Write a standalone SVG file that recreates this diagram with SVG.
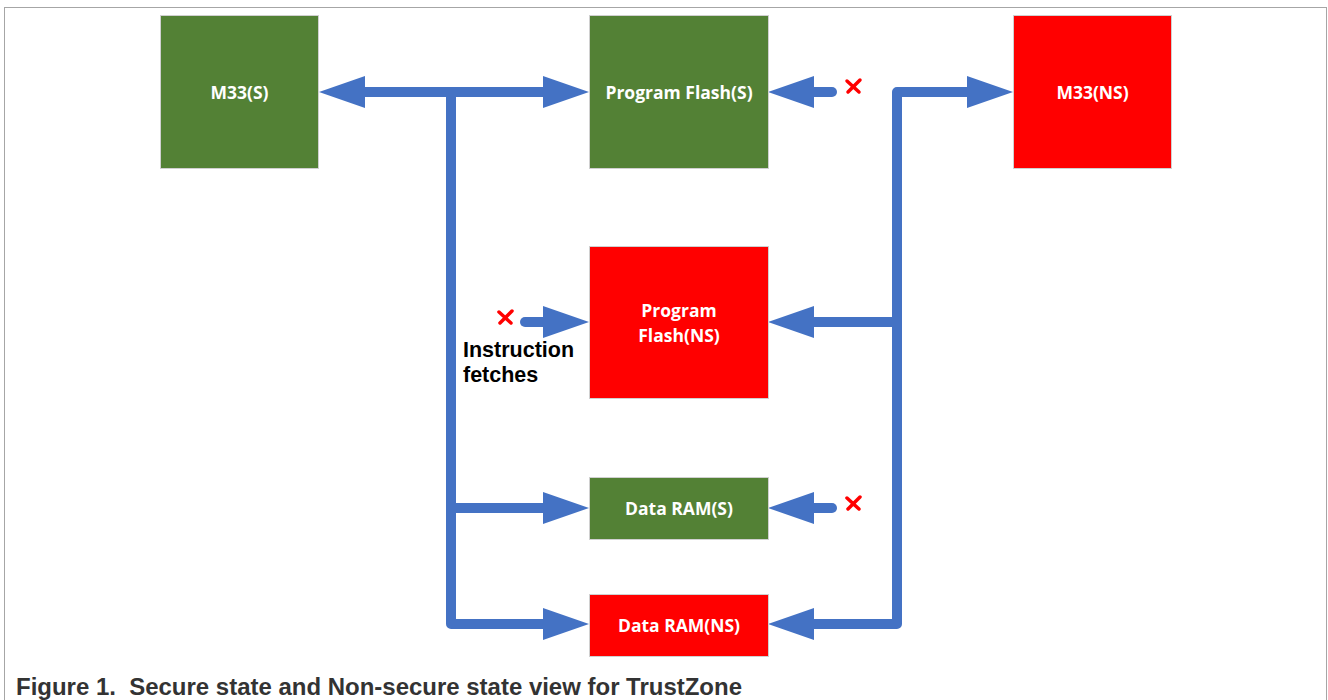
<svg xmlns="http://www.w3.org/2000/svg" width="1328" height="700" viewBox="0 0 1328 700">
<style>
.box{stroke:#d0d0d0;stroke-width:1}
.sec{fill:#538135}
.ns{fill:#ff0000}
.lbl{font-family:"Open Sans","Liberation Sans",sans-serif;font-weight:bold;font-size:17.5px;fill:#ffffff;text-anchor:middle}
.bus{fill:none;stroke:#4472c4;stroke-width:10;stroke-linejoin:round}
.short{fill:none;stroke:#4472c4;stroke-width:10;stroke-linecap:round}
.x{fill:none;stroke:#ff0000;stroke-width:3.5;stroke-linecap:round}
.note{font-family:"Liberation Sans",Arial,sans-serif;font-weight:bold;font-size:21.5px;fill:#000000}
.cap{font-family:"Liberation Sans",Arial,sans-serif;font-weight:bold;font-size:23px;fill:#333333;white-space:pre}
</style>
<defs>
<marker id="ah" markerUnits="userSpaceOnUse" markerWidth="46" markerHeight="32" viewBox="0 0 46 32" refX="1" refY="16" orient="auto-start-reverse">
<path d="M0,0 L46,16 L0,32 Z" fill="#4472c4"/>
</marker>
</defs>
<rect x="4.5" y="7.5" width="1322" height="720" fill="#ffffff" stroke="#a6a6a6" stroke-width="1"/>

<g id="connectors">
<path class="bus" d="M 364 92 H 544" marker-start="url(#ah)" marker-end="url(#ah)"/>
<path class="bus" d="M 451 92 V 624 H 544" marker-end="url(#ah)"/>
<path class="bus" d="M 451 508 H 544" marker-end="url(#ah)"/>
<path class="bus" d="M 968 92 H 897 V 624 H 813" marker-start="url(#ah)" marker-end="url(#ah)"/>
<path class="bus" d="M 897 322 H 813" marker-end="url(#ah)"/>
<path class="short" d="M 832 92 H 813" marker-end="url(#ah)"/>
<path class="short" d="M 832 508 H 813" marker-end="url(#ah)"/>
<path class="short" d="M 525 322 H 544" marker-end="url(#ah)"/>
</g>

<g id="blocked">
<path class="x" d="M 847 81 L 859 92 M 860 80 L 848 92"/>
<path class="x" d="M 847 498 L 859 509 M 860 497 L 848 509"/>
<path class="x" d="M 499 312 L 511 323 M 512 311 L 500 323"/>
</g>

<g id="m33s">
<rect class="box sec" x="160.5" y="15.5" width="158" height="153"/>
<text class="lbl" x="239.5" y="98.5">M33(S)</text>
</g>
<g id="pflash-s">
<rect class="box sec" x="589.5" y="15.5" width="179" height="153"/>
<text class="lbl" x="679" y="98.5">Program Flash(S)</text>
</g>
<g id="m33ns">
<rect class="box ns" x="1013.5" y="15.5" width="158" height="153"/>
<text class="lbl" x="1092.5" y="98.5">M33(NS)</text>
</g>
<g id="pflash-ns">
<rect class="box ns" x="589.5" y="246.5" width="179" height="152"/>
<text class="lbl" x="679" y="316.5">Program</text>
<text class="lbl" x="679" y="341.5">Flash(NS)</text>
</g>
<g id="dram-s">
<rect class="box sec" x="589.5" y="477.5" width="179" height="62"/>
<text class="lbl" x="679" y="514.5">Data RAM(S)</text>
</g>
<g id="dram-ns">
<rect class="box ns" x="589.5" y="594.5" width="179" height="62"/>
<text class="lbl" x="679" y="631.5">Data RAM(NS)</text>
</g>

<g id="instr-label">
<text class="note" x="463" y="357">Instruction</text>
<text class="note" x="463" y="382">fetches</text>
</g>

<text class="cap" x="16" y="695" xml:space="preserve" textLength="726" lengthAdjust="spacingAndGlyphs">Figure 1.  Secure state and Non-secure state view for TrustZone</text>
</svg>
